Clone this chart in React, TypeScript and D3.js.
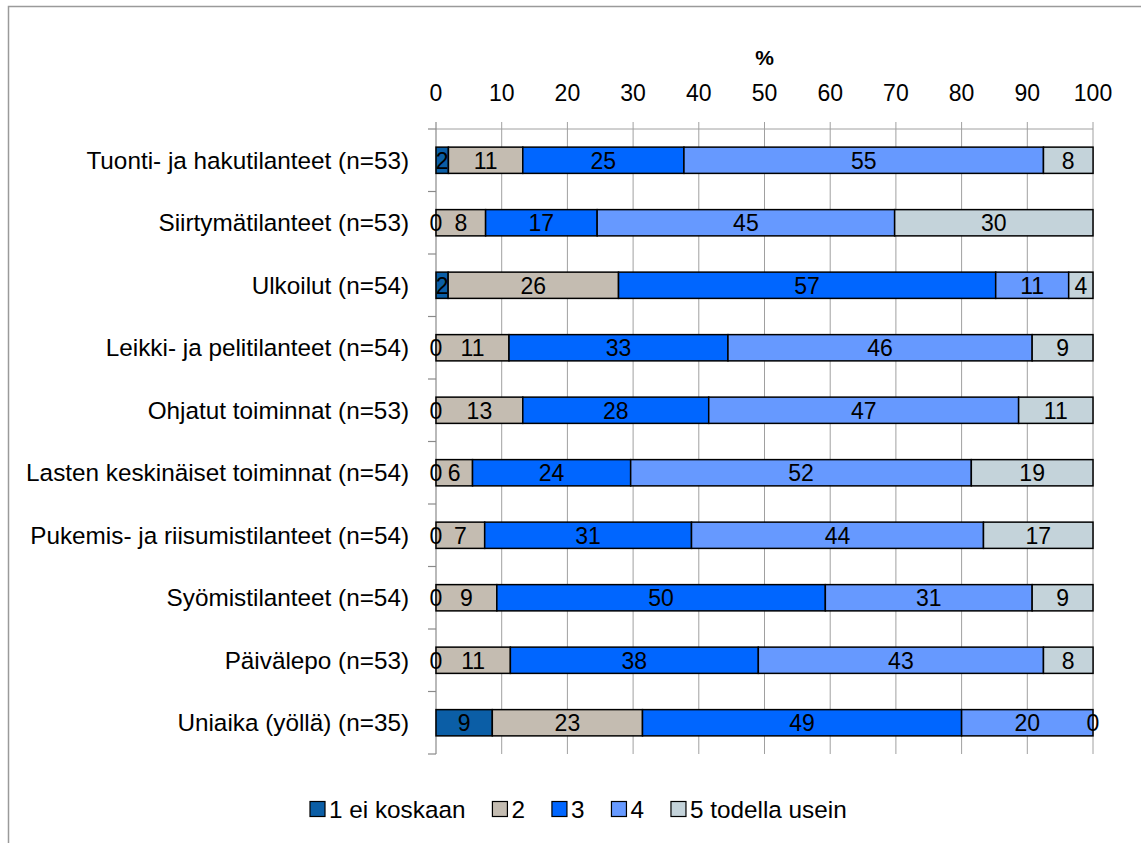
import React, { useEffect, useRef } from "react";
import * as d3 from "d3";

const categories = [
  "Tuonti- ja hakutilanteet (n=53)",
  "Siirtymätilanteet (n=53)",
  "Ulkoilut (n=54)",
  "Leikki- ja pelitilanteet (n=54)",
  "Ohjatut toiminnat (n=53)",
  "Lasten keskinäiset toiminnat (n=54)",
  "Pukemis- ja riisumistilanteet (n=54)",
  "Syömistilanteet (n=54)",
  "Päivälepo (n=53)",
  "Uniaika (yöllä) (n=35)",
];

const seriesNames = ["1 ei koskaan", "2", "3", "4", "5 todella usein"];

// percentages per category, in series order
const s1 = [1.89, 0, 1.85, 0, 0, 0, 0, 0, 0, 8.57];
const s2 = [11.32, 7.55, 25.93, 11.11, 13.21, 5.56, 7.41, 9.26, 11.32, 22.86];
const s3 = [24.53, 16.98, 57.41, 33.33, 28.3, 24.07, 31.48, 50.0, 37.74, 48.57];
const s4 = [54.72, 45.28, 11.11, 46.3, 47.17, 51.85, 44.44, 31.48, 43.4, 20.0];
const s5 = [7.55, 30.19, 3.7, 9.26, 11.32, 18.52, 16.67, 9.26, 7.55, 0];

const colors = ["#0B5EA6", "#C4BCB1", "#0066FF", "#6699FF", "#C4D3DA"];
const xTicks = [0, 10, 20, 30, 40, 50, 60, 70, 80, 90, 100];

const FONT = "'Liberation Sans', Arial, sans-serif";
const LABEL_SIZE = 24.3;
const NUM_SIZE = 23;

export default function App() {
  const ref = useRef<SVGSVGElement>(null);
  useEffect(() => {
    const svg = d3.select(ref.current);
    svg.selectAll("*").remove();
    const W = 1141, H = 843;
    const left = 436, right = 1093, top = 129, bottom = 754;
    const x = d3.scaleLinear().domain([0, 100]).range([left, right]);
    const y = d3.scaleBand().domain(categories).range([top, bottom]).paddingInner(0.58).paddingOuter(0.29);

    // border
    svg.append("path").attr("d", `M8.5,${H} V6.5 H${W}`).attr("fill", "none").attr("stroke", "#9a9a9a").attr("stroke-width", 1.5);

    // gridlines
    svg.append("g").selectAll("line").data(xTicks.slice(1)).join("line")
      .attr("x1", d => x(d)).attr("x2", d => x(d)).attr("y1", top - 7).attr("y2", bottom)
      .attr("stroke", "#a0a0a0").attr("stroke-width", 1);
    // top axis
    svg.append("line").attr("x1", left).attr("x2", right).attr("y1", top).attr("y2", top).attr("stroke", "#a0a0a0");
    svg.append("line").attr("x1", left).attr("x2", left).attr("y1", top - 7).attr("y2", bottom).attr("stroke", "#8a8a8a").attr("stroke-width", 1.2);
    // left ticks at band boundaries
    const step = y.step();
    const bounds = d3.range(categories.length + 1).map(i => top + i * step);
    svg.append("g").selectAll("line").data(bounds).join("line")
      .attr("x1", left - 8).attr("x2", left).attr("y1", d => d).attr("y2", d => d)
      .attr("stroke", "#8a8a8a").attr("stroke-width", 1.2);

    // tick labels
    svg.append("g").selectAll("text").data(xTicks).join("text")
      .attr("x", d => x(d)).attr("y", 101).attr("text-anchor", "middle")
      .attr("font-family", FONT).attr("font-size", NUM_SIZE).attr("fill", "#000").text(d => d);
    svg.append("text").attr("x", x(50)).attr("y", 65).attr("text-anchor", "middle")
      .attr("font-family", FONT).attr("font-size", 21).attr("font-weight", "bold").text("%");

    // category labels
    svg.append("g").selectAll("text").data(categories).join("text")
      .attr("x", 409).attr("y", d => (y(d) as number) + y.bandwidth() / 2).attr("dy", "0.36em")
      .attr("text-anchor", "end").attr("font-family", FONT).attr("font-size", LABEL_SIZE).text(d => d);

    const series = [s1, s2, s3, s4, s5];
    const rows = categories.map((c, i) => {
      const o: any = { cat: c };
      seriesNames.forEach((s, j) => (o[s] = series[j][i]));
      return o;
    });
    const stacked = d3.stack<any>().keys(seriesNames)(rows);
    const gBars = svg.append("g");
    stacked.forEach((layer, j) => {
      gBars.append("g").selectAll("rect").data(layer).join("rect")
        .attr("x", d => x(d[0])).attr("width", d => x(d[1]) - x(d[0]))
        .attr("y", d => y(d.data.cat) as number).attr("height", y.bandwidth())
        .attr("fill", colors[j]).attr("stroke", "#000").attr("stroke-width", 1.5);
    });
    stacked.forEach((layer) => {
      gBars.append("g").selectAll("text").data(layer).join("text")
        .attr("x", d => x((d[0] + d[1]) / 2))
        .attr("y", d => (y(d.data.cat) as number) + y.bandwidth() / 2).attr("dy", "0.36em")
        .attr("text-anchor", "middle").attr("font-family", FONT).attr("font-size", NUM_SIZE)
        .text(d => Math.round(d[1] - d[0]));
    });

    // legend
    const lg = svg.append("g");
    let cx = 310;
    const ly = 809;
    seriesNames.forEach((s, j) => {
      lg.append("rect").attr("x", cx).attr("y", ly - 7.5).attr("width", 15).attr("height", 15)
        .attr("fill", colors[j]).attr("stroke", "#000").attr("stroke-width", 1.2);
      const t = lg.append("text").attr("x", cx + 19).attr("y", ly).attr("dy", "0.36em")
        .attr("font-family", FONT).attr("font-size", LABEL_SIZE).text(s);
      const w = (t.node() as SVGTextElement).getComputedTextLength();
      cx += 19 + w + 27;
    });
  }, []);
  return <svg ref={ref} width={1141} height={843} style={{ display: "block", position: "absolute", left: 0, top: 0 }} />;
}
